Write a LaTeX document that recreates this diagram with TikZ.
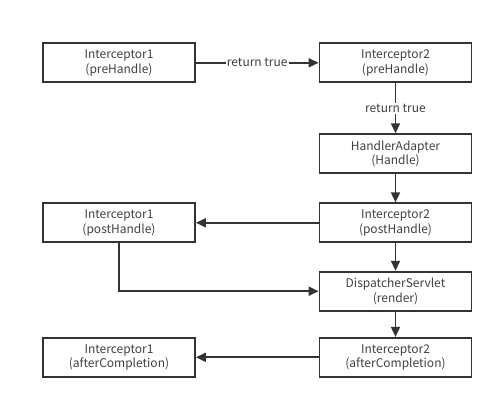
\documentclass[tikz,border=0pt]{standalone}
\usepackage{fontspec}
\setmainfont{Noto Sans CJK SC}
\usetikzlibrary{arrows.meta}
\definecolor{edge}{HTML}{333333}
\definecolor{txt}{HTML}{404040}
\begin{document}
\begin{tikzpicture}[x=1pt,y=-1pt,
  box/.style={draw=edge,line width=1.8pt,minimum width=152pt,minimum height=39pt,inner sep=0pt,align=center,text=txt,font=\fontsize{12}{14.5}\selectfont},
  arr/.style={draw=edge,line width=1.7pt,-{Triangle[length=10pt,width=9pt]}},
  lbl/.style={fill=white,text=txt,inner sep=1pt,font=\fontsize{12}{14.5}\selectfont}]
\useasboundingbox (0,0) rectangle (500,406);
\node[box] (i1pre) at (119,62.8) {Interceptor1\\(preHandle)};
\node[box] (i2pre) at (395.5,62.8) {Interceptor2\\(preHandle)};
\node[box] (ha) at (395.5,153.7) {HandlerAdapter\\(Handle)};
\node[box] (i2post) at (395.5,222.8) {Interceptor2\\(postHandle)};
\node[box] (i1post) at (119,222.8) {Interceptor1\\(postHandle)};
\node[box] (ds) at (395.5,291.2) {DispatcherServlet\\(render)};
\node[box] (i2after) at (395.5,357.3) {Interceptor2\\(afterCompletion)};
\node[box] (i1after) at (119,357.3) {Interceptor1\\(afterCompletion)};
\draw[arr] (i1pre) -- node[lbl] {return true} (i2pre);
\draw[arr] (i2pre) -- node[lbl] {return true} (ha);
\draw[arr] (ha) -- (i2post);
\draw[arr] (i2post) -- (i1post);
\draw[arr] (i2post) -- (ds);
\draw[arr] (i1post.south) |- (ds.west);
\draw[arr] (ds) -- (i2after);
\draw[arr] (i2after.west) -- (i1after.east);
\end{tikzpicture}
\end{document}
